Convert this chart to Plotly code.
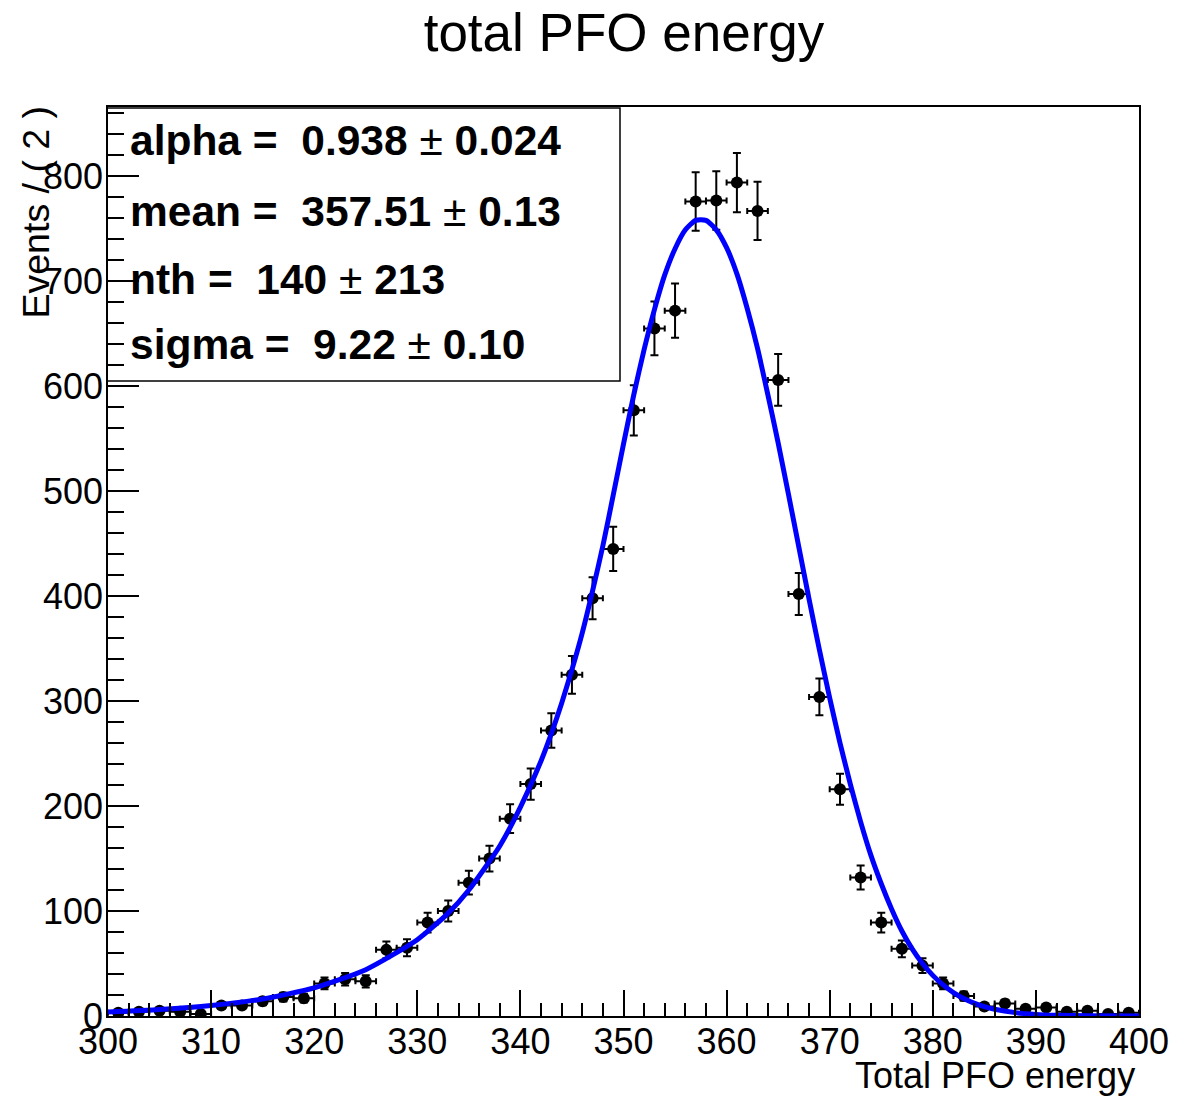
import numpy as np
import plotly.graph_objects as go

# ---- data ----
bin_centers = [301, 303, 305, 307, 309, 311, 313, 315, 317, 319,
               321, 323, 325, 327, 329, 331, 333, 335, 337, 339,
               341, 343, 345, 347, 349, 351, 353, 355, 357, 359,
               361, 363, 365, 367, 369, 371, 373, 375, 377, 379,
               381, 383, 385, 387, 389, 391, 393, 395, 397, 399]
counts = [3, 4, 5, 4, 2, 10, 10, 14, 18, 17,
          31, 35, 33, 63, 65, 89, 100, 127, 150, 188,
          221, 272, 325, 398, 445, 577, 655, 672, 776, 777,
          794, 767, 606, 402, 304, 216, 132, 89, 64, 48,
          31, 19, 9, 12, 7, 8, 4, 5, 2, 3]
bin_half_width = 1.0

# fitted curve
fit_x = [300, 305, 310, 315, 320, 325, 330, 333, 335, 338, 340, 342, 343,
         344, 345, 346, 347, 348, 349, 350, 351, 352, 353, 354, 355, 356,
         357, 358, 359, 360, 361, 362, 363, 364, 365, 366, 367, 368, 369,
         370, 371, 372, 373, 374, 375, 376, 377, 378, 379, 380, 381, 382,
         383, 384, 385, 386, 388, 390, 392, 395, 400]
fit_y = [3.7, 6.1, 9.9, 16.2, 26.8, 44.1, 72.7, 98, 120, 162, 199, 243, 269,
         298, 330, 365, 405, 448, 496, 545, 592, 635, 673, 706, 731, 749,
         758, 758, 749, 732, 707, 674, 636, 592, 546, 497, 447, 397, 349,
         303, 260, 221, 185, 153, 126, 102, 81, 64, 50, 38.7, 29.6, 22.3,
         16.6, 12.2, 8.9, 6.4, 3.2, 1.5, 0.7, 0.2, 0.0]

stats_names = ["alpha", "mean", "nth", "sigma"]
stats_values = ["0.938", "357.51", "140", "9.22"]
stats_errors = ["0.024", "0.13", "213", "0.10"]

title_text = "total PFO energy"
x_title = "Total PFO energy"
y_title = "Events / ( 2 )"

FONT = "Liberation Sans, Arial, Helvetica, sans-serif"

fig = go.Figure()
fig.add_trace(go.Scatter(
    x=bin_centers, y=counts, mode="markers",
    marker=dict(color="black", size=12, symbol="circle"),
    error_x=dict(type="constant", value=bin_half_width, color="black",
                 thickness=2, width=3),
    error_y=dict(type="data", array=list(np.sqrt(counts)), color="black",
                 thickness=2, width=4),
    showlegend=False, hoverinfo="skip"))
fig.add_trace(go.Scatter(
    x=fit_x, y=fit_y, mode="lines",
    line=dict(color="#0000ff", width=5, shape="spline", smoothing=0.6),
    showlegend=False, hoverinfo="skip"))

L, R, T, B = 108, 49, 107, 80
W, H = 1188, 1096
pw, ph = W - L - R, H - T - B

def px(xp):
    return (xp - L) / pw

def py(yp):
    return (H - B - yp) / ph

fig.update_layout(
    width=W, height=H,
    margin=dict(l=L, r=R, t=T, b=B),
    paper_bgcolor="white", plot_bgcolor="white",
    font=dict(family=FONT, color="black", size=36),
    title=dict(text=title_text, x=624 / W, xanchor="center",
               y=1 - 32 / H, yanchor="middle", yref="container",
               font=dict(size=53, family=FONT, color="black")),
    xaxis=dict(range=[300, 400], tick0=300, dtick=10, ticks="inside",
               ticklen=26, tickwidth=1.5, tickcolor="black",
               ticklabelstandoff=-7,
               showline=True, mirror=True, linecolor="black", linewidth=1.5,
               showgrid=False, zeroline=False,
               tickfont=dict(size=36, family=FONT),
               minor=dict(dtick=2, ticks="inside", ticklen=13,
                          tickwidth=1.5, tickcolor="black", showgrid=False)),
    yaxis=dict(range=[0, 866], tick0=0, dtick=100, ticks="inside",
               ticklen=31, tickwidth=1.5, tickcolor="black",
               ticklabelstandoff=-4,
               showline=True, mirror=True, linecolor="black", linewidth=1.5,
               showgrid=False, zeroline=False,
               tickfont=dict(size=36, family=FONT),
               minor=dict(dtick=20, ticks="inside", ticklen=16,
                          tickwidth=1.5, tickcolor="black", showgrid=False)),
)

# stats box
fig.add_shape(type="rect", xref="paper", yref="paper",
              x0=px(107), x1=px(620), y0=py(381), y1=py(108),
              line=dict(color="black", width=1.5), fillcolor="white",
              layer="below")
for name, val, err, yc in zip(stats_names, stats_values, stats_errors,
                              [141, 211, 279, 344]):
    text = f"<b>{name} =\u00a0\u00a0{val}\u00a0</b>±<b>\u00a0{err}</b>"
    fig.add_annotation(text=text, xref="paper", yref="paper",
                       x=px(128), y=py(yc), xanchor="left", yanchor="middle",
                       showarrow=False, font=dict(size=42.5, family=FONT, color="black"))

# axis titles
fig.add_annotation(text=x_title, xref="paper", yref="paper",
                   x=px(1137), y=py(1075), xanchor="right", yanchor="middle",
                   showarrow=False, font=dict(size=36, family=FONT, color="black"))
fig.add_annotation(text=y_title, xref="paper", yref="paper",
                   x=px(35), y=py(104), xanchor="center", yanchor="top",
                   textangle=-90, showarrow=False,
                   font=dict(size=37.5, family=FONT, color="black"))

fig.write_html("out.html")
